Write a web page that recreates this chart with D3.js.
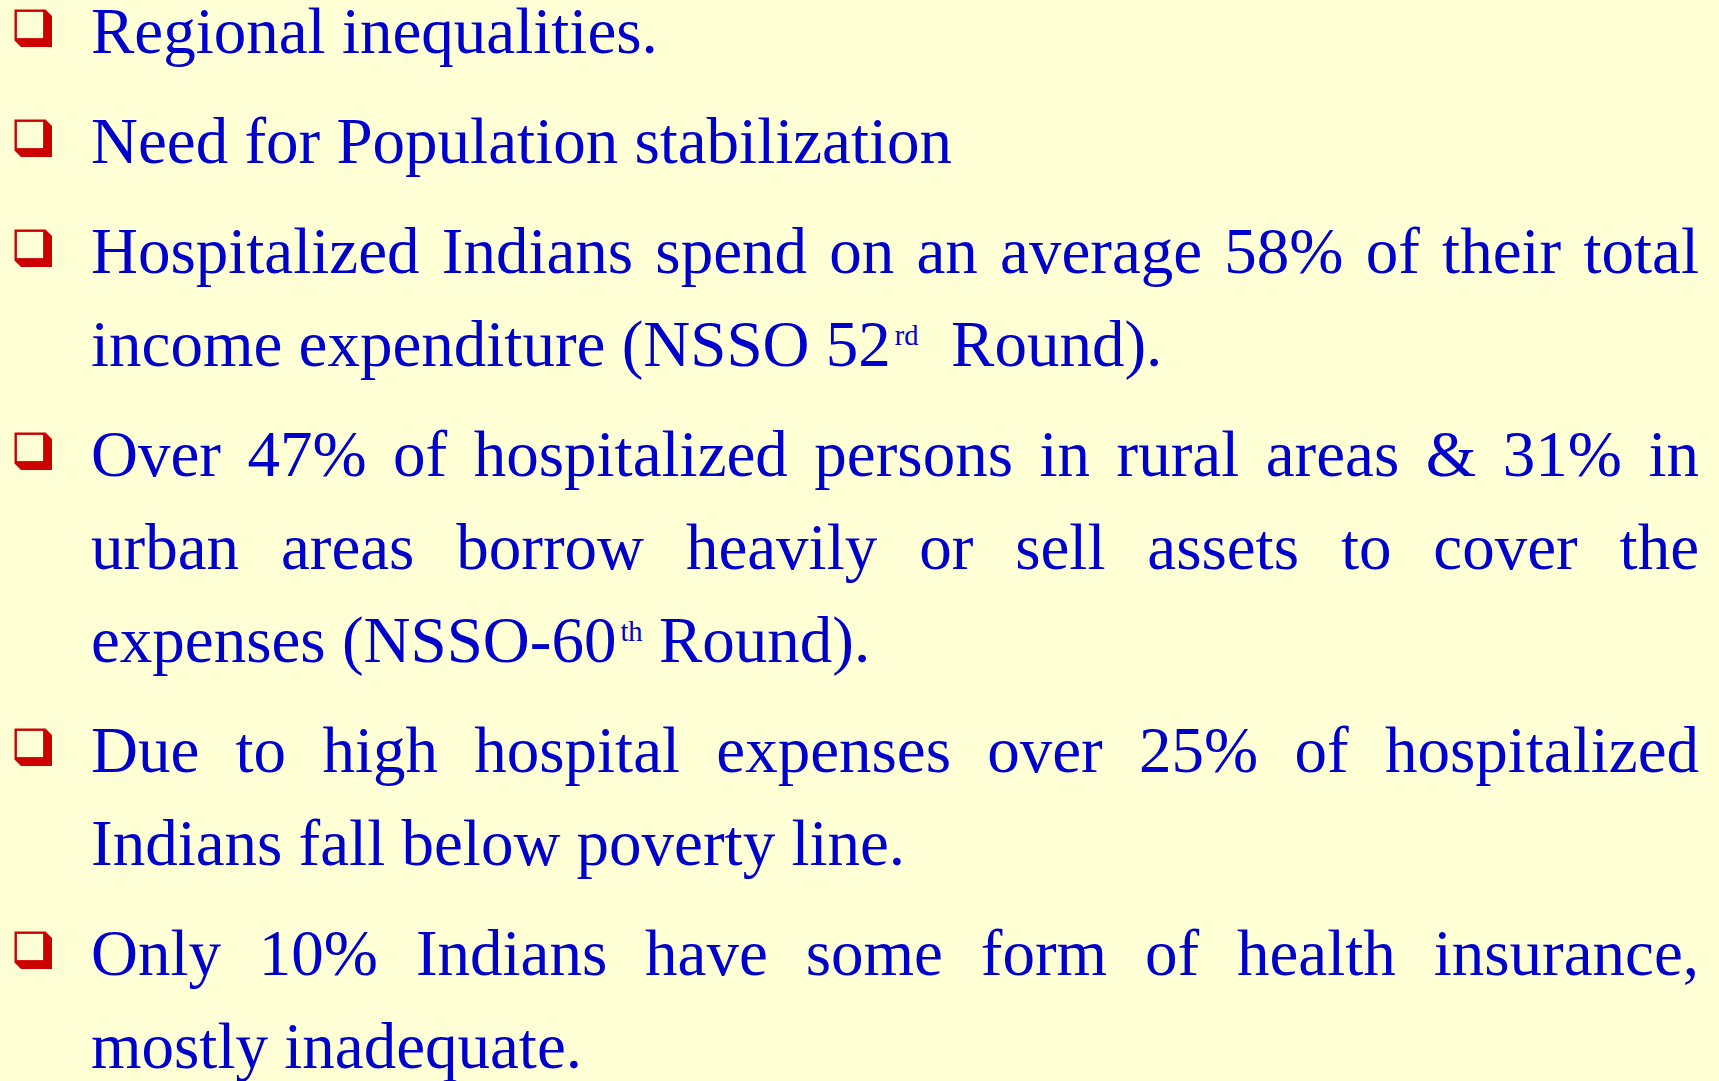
<!DOCTYPE html>
<html>
<head>
<meta charset="utf-8">
<script src="https://cdn.jsdelivr.net/npm/d3@7"></script>
<style>
  html, body { margin: 0; padding: 0; background: #FFFFD5; overflow: hidden; }
</style>
</head>
<body>
<svg id="slide" width="1719" height="1081"></svg>
<script>
// Slide content: one entry per bullet, one string per printed line.
// "^xx" marks a superscript run inside a word.
var bulletLines = [
  ["Regional inequalities."],
  ["Need for Population stabilization"],
  ["Hospitalized Indians spend on an average 58% of their total",
   "income expenditure (NSSO 52^rd  Round)."],
  ["Over 47% of hospitalized persons in rural areas & 31% in",
   "urban areas borrow heavily or sell assets to cover the",
   "expenses (NSSO-60^th Round)."],
  ["Due to high hospital expenses over 25% of hospitalized",
   "Indians fall below poverty line."],
  ["Only 10% Indians have some form of health insurance,",
   "mostly inadequate."]
];

var BG = "#FFFFD5", TEXT_COLOR = "#0000CC", BULLET_COLOR = "#CC0000";
var FONT = "'Liberation Serif', 'Times New Roman', serif";
var FONT_SIZE = 65;
var TEXT_X = 91, RIGHT_X = 1699;
var FIRST_BASELINE = 53, LINE_GAP = 93, PARA_GAP = 110;

var svg = d3.select("#slide");
svg.append("rect").attr("width", 1719).attr("height", 1081).attr("fill", BG);

// baseline of every line
var rows = [];
var y = FIRST_BASELINE;
bulletLines.forEach(function(lines, p) {
  lines.forEach(function(line, i) {
    rows.push({ text: line, y: y, first: i == 0, justify: i < lines.length - 1 });
    y += (i < lines.length - 1) ? LINE_GAP : PARA_GAP;
  });
});

// shadowed square bullet
function drawBullet(baseY) {
  var x0 = 14.5, y0 = baseY - 43.5, s = 31, d = 6.5;
  var g = svg.append("g");
  g.append("polygon")
    .attr("points", [[x0 + s, y0], [x0 + s + d, y0 + d], [x0 + s + d, y0 + s + d],
                     [x0 + d, y0 + s + d], [x0, y0 + s]].join(" "))
    .attr("fill", BULLET_COLOR);
  g.append("rect")
    .attr("x", x0 + 1.2).attr("y", y0 + 1.2)
    .attr("width", s - 2.4).attr("height", s - 2.4)
    .attr("fill", BG)
    .attr("stroke", BULLET_COLOR)
    .attr("stroke-width", 2.4);
}

function addWord(parent, word) {
  var parts = word.split("^");
  parent.append("tspan").text(parts[0]);
  if (parts.length > 1) {
    parent.append("tspan")
      .attr("font-size", FONT_SIZE * 0.44)
      .attr("dx", 4)
      .attr("dy", -FONT_SIZE * 0.33)
      .text(parts[1]);
  }
}

rows.forEach(function(row) {
  if (row.first) drawBullet(row.y);
  var words = row.text.split(" ");
  var nodes = words.map(function(w) {
    var t = svg.append("text")
      .attr("y", row.y)
      .attr("fill", TEXT_COLOR)
      .style("font-family", FONT)
      .style("font-size", FONT_SIZE + "px");
    addWord(t, w);
    return t;
  });
  var widths = nodes.map(function(t, i) {
    return t.node().getComputedTextLength() + (words[i].indexOf("^") >= 0 ? 4 : 0);
  });
  var spaceW = FONT_SIZE * 0.25;
  var gap = spaceW;
  if (row.justify && words.length > 1) {
    gap = (RIGHT_X - TEXT_X - d3.sum(widths)) / (words.length - 1);
  }
  var x = TEXT_X;
  nodes.forEach(function(t, i) {
    t.attr("x", x);
    x += widths[i] + gap;
  });
});
</script>
</body>
</html>
